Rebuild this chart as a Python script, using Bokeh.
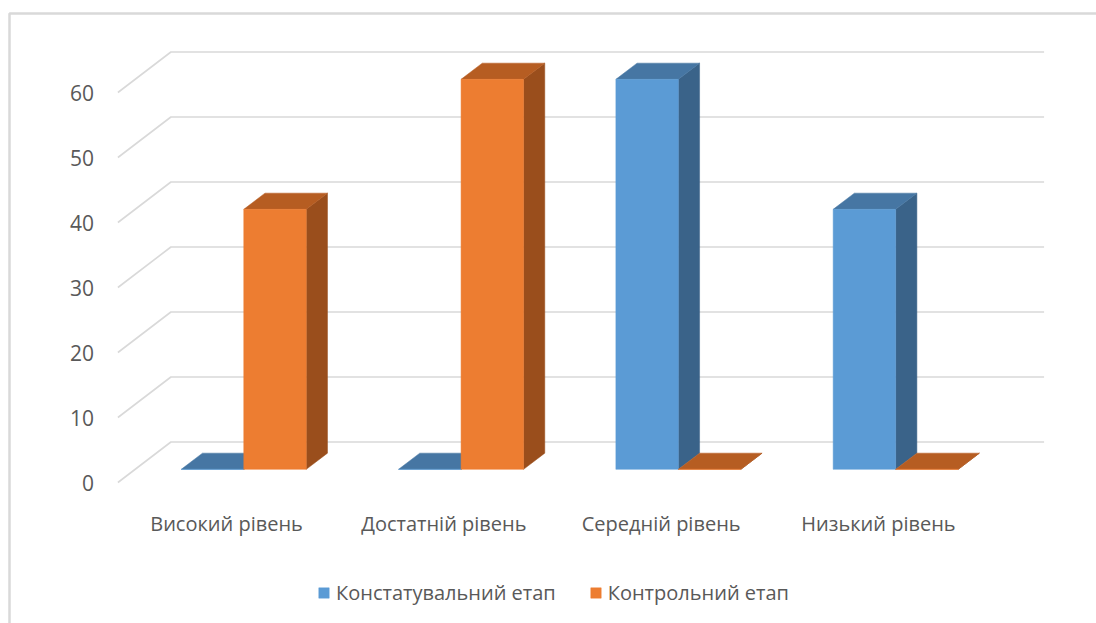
from bokeh.plotting import figure
from bokeh.models import Range1d, ColumnDataSource, Legend, LegendItem
from bokeh.core.properties import value
from bokeh.embed import file_html
from bokeh.resources import INLINE

# ---- data ----
categories = ["Високий рівень", "Достатній рівень", "Середній рівень", "Низький рівень"]
series_names = ["Констатувальний етап", "Контрольний етап"]
konstatuvalnyi = [0, 0, 60, 40]
kontrolnyi = [40, 60, 0, 0]
y_ticks = [0, 10, 20, 30, 40, 50, 60]

# ---- styling / geometry (data units: 1 category = 1 x unit) ----
FONT = "Open Sans"
TXT = "#595959"
GRID = "#d9d9d9"
front_cols = ["#5B9BD5", "#ED7D31"]
top_cols = ["#4676A3", "#B65D22"]
side_cols = ["#3A6389", "#9A4E1C"]

PX_X = 217.3      # px per category
PX_Y = 6.5        # px per value unit
X0, Y0 = 117.4, 482.0   # pixel of front-plane origin
DX = 53.0 / PX_X        # full depth offset (x)
DY = 40.5 / PX_Y        # full depth offset (y)
F0, F1 = 0.325, 0.725   # bar front/back depth fractions
BAR_W = 62.5 / PX_X
GRID_EXTRA = 4.0 / PX_X

W, H = 1096, 623
def px_x(px):
    return (px - X0) / PX_X
def px_y(py):
    return (Y0 - py) / PX_Y

p = figure(width=W, height=H, output_backend="svg", toolbar_location=None,
           x_range=Range1d(px_x(0), px_x(W)), y_range=Range1d(px_y(H), px_y(0)),
           min_border=0, outline_line_color=None)
p.axis.visible = False
p.grid.visible = False
p.background_fill_color = "white"
p.border_fill_color = "white"

# chart border (top & left edge)
p.line([px_x(9), px_x(9), px_x(W + 5)], [px_y(H + 5), px_y(13), px_y(13)],
       line_color=GRID, line_width=2.5)

# 3D gridlines
n = len(categories)
gx = [[0, DX, n + DX + GRID_EXTRA] for v in y_ticks]
gy = [[v, v + DY, v + DY] for v in y_ticks]
p.multi_line(gx, gy, line_color=GRID, line_width=1.6)

# y tick labels
p.text(x=[-24 / PX_X] * len(y_ticks), y=y_ticks, text=[str(v) for v in y_ticks],
       text_align="right", text_baseline="middle", text_color=TXT,
       text_font=value(FONT), text_font_size="21px")

# category labels
p.text(x=[i + 0.5 for i in range(n)], y=[px_y(523)] * n, text=categories,
       text_align="center", text_baseline="middle", text_color=TXT,
       text_font=value(FONT), text_font_size="20px")

# bars
fx = F0 * DX
fy = F0 * DY
bx = (F1 - F0) * DX
by = (F1 - F0) * DY
renderers = []
for s, vals in enumerate([konstatuvalnyi, kontrolnyi]):
    lefts = [i + 0.5 + fx + (s - 1) * BAR_W for i in range(n)]
    rights = [l + BAR_W for l in lefts]
    # side faces
    sx = [[r, r, r + bx, r + bx] for r in rights]
    sy = [[fy, v + fy, v + fy + by, fy + by] for v in vals]
    p.patches(sx, sy, fill_color=side_cols[s], line_color=side_cols[s], line_width=0.5)
    # top faces
    tx = [[l, r, r + bx, l + bx] for l, r in zip(lefts, rights)]
    ty = [[v + fy, v + fy, v + fy + by, v + fy + by] for v in vals]
    p.patches(tx, ty, fill_color=top_cols[s], line_color=top_cols[s], line_width=0.5)
    # front faces
    src = ColumnDataSource(dict(x=[l + BAR_W / 2 for l in lefts],
                                top=[v + fy for v in vals], bottom=[fy] * n))
    r = p.vbar(x="x", width=BAR_W, top="top", bottom="bottom", source=src,
               fill_color=front_cols[s], line_color=front_cols[s], line_width=0.5)
    renderers.append(r)

legend = Legend(items=[LegendItem(label=series_names[i], renderers=[renderers[i]]) for i in range(2)],
                location=(317, 17), orientation="horizontal",
                glyph_width=13, glyph_height=13, label_standoff=6, spacing=33,
                padding=0, margin=0, border_line_color=None, background_fill_alpha=0,
                label_text_font=FONT, label_text_color=TXT, label_text_font_size="20px")
p.add_layout(legend)

open("out.html", "w").write(file_html(p, INLINE))
